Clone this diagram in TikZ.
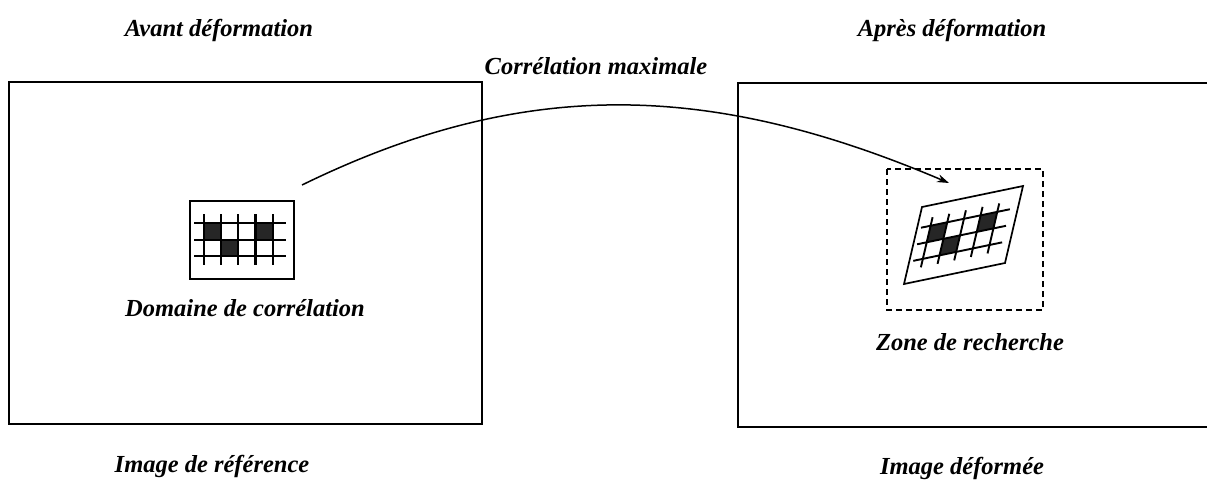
\documentclass[tikz,border=0pt]{standalone}
\usepackage{fontspec}
\setmainfont{Liberation Serif}
\usetikzlibrary{arrows.meta}

% grille de corrélation dans le carré unité (u vers la droite, v vers le haut)
\newcommand{\corrgrid}[1]{%
  \foreach \a/\b in {0.135/0.505, 0.3/0.29, 0.63/0.505}
    \fill[black!85] (\a,\b) -- ++(0.165,0) -- ++(0,0.215) -- ++(-0.165,0) -- cycle;
  \foreach \u in {0.135,0.3,...,0.8}
    \draw[line width=#1] (\u,0.18) -- (\u,0.83);
  \foreach \v in {0.29,0.505,0.72}
    \draw[line width=#1] (0.04,\v) -- (0.92,\v);
}

\begin{document}
\begin{tikzpicture}[x=1pt, y=-1pt,
    legende/.style={font=\fontsize{24.5}{30}\selectfont\bfseries\itshape},
    cadre/.style={line width=1.6pt}]
  \useasboundingbox (0,0) rectangle (1207,491);
  % les deux images
  \draw[cadre] (9,82) rectangle (482,424);
  \draw[cadre] (738,83) rectangle (1215,427);
  \node[legende] (avant) at (219,30) {Avant déformation};
  \node[legende] (apres) at (952,30) {Après déformation};
  \node[legende] (corr) at (596,66) {Corrélation maximale};
  \node[legende] (imref) at (212,466) {Image de référence};
  \node[legende] (imdef) at (962,468) {Image déformée};

  % domaine de corrélation
  \draw[line width=1.8pt] (190,201) rectangle (294,279);
  \begin{scope}[shift={(190,279)}, x={(104pt,0pt)}, y={(0pt,78pt)}]
    \corrgrid{2.2pt}
  \end{scope}
  \node[legende] (domaine) at (245,308) {Domaine de corrélation};

  % zone de recherche et domaine déformé
  \draw[line width=1.7pt, dash pattern=on 6pt off 4pt] (887,169) rectangle (1043,310);
  \begin{scope}[shift={(904,284)}, x={(101pt,21pt)}, y={(18pt,77pt)}]
    \draw[line width=1.7pt] (0,0) -- (1,0) -- (1,1) -- (0,1) -- cycle;
    \corrgrid{1.9pt}
  \end{scope}
  \node[legende] (zone) at (970,342) {Zone de recherche};

  \coordinate (depart) at (302,185);
  \coordinate (arrivee) at (949,183);
  \draw[line width=1.5pt, -{Stealth[length=12pt,width=8pt]}]
    (depart) .. controls (529,74) and (716,84) .. (arrivee);
\end{tikzpicture}
\end{document}
